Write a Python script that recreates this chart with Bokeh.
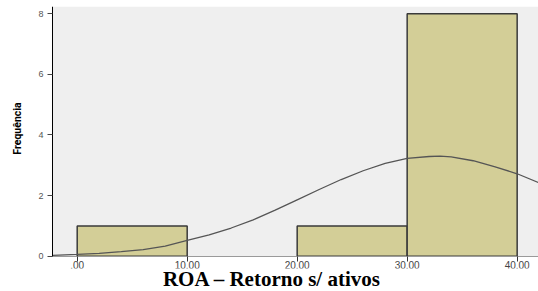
import math
from bokeh.plotting import figure
from bokeh.models import Label, FixedTicker, BoxAnnotation
from bokeh.embed import file_html
from bokeh.resources import INLINE

# Histogram bins (ROA) and frequencies
bin_left = [0, 10, 20, 30]
bin_right = [10, 20, 30, 40]
counts = [1, 0, 1, 8]

# Fitted normal curve
curve_x = [-2.2, 0, 2, 4, 6, 8, 10, 12, 14, 16, 18, 20, 22, 24, 26, 28, 30, 32, 33, 34, 36, 38, 40, 42]
curve_y = [0.03, 0.06, 0.09, 0.15, 0.22, 0.33, 0.52, 0.70, 0.93, 1.20, 1.52, 1.86, 2.20, 2.53, 2.82,
           3.06, 3.23, 3.29, 3.30, 3.28, 3.15, 2.95, 2.72, 2.42]

x_ticks = [0, 10, 20, 30, 40]
x_tick_labels = [".00", "10.00", "20.00", "30.00", "40.00"]
y_ticks = [0, 2, 4, 6, 8]

y_label = "Frequência"
caption = "ROA – Retorno s/ ativos"

X_LEFT, X_RIGHT = -6.973, 41.94
X_AXIS_POS = -2.245
Y_TOP = 8.24
Y_BOTTOM = -1.165
CAPTION_BOX_TOP = -0.405

p = figure(width=538, height=291, output_backend="svg", toolbar_location=None,
           x_range=(X_LEFT, X_RIGHT), y_range=(Y_BOTTOM, Y_TOP),
           min_border_left=0, min_border_right=0, min_border_top=6, min_border_bottom=0)
p.background_fill_color = "white"
p.border_fill_color = "white"
p.outline_line_color = None
p.xgrid.visible = False
p.ygrid.visible = False

# grey plot background
p.add_layout(BoxAnnotation(bottom=0, left=X_AXIS_POS, fill_color="#EFEFEF", fill_alpha=1.0,
                           line_alpha=0, level="underlay"))

lefts, rights, tops = [], [], []
for l, r, c in zip(bin_left, bin_right, counts):
    if c > 0:
        lefts.append(l); rights.append(r); tops.append(c)
p.quad(left=lefts, right=rights, top=tops, bottom=0,
       fill_color="#D3CE97", line_color="#3A3A3A", line_width=1.5)

p.line(curve_x, curve_y, line_color="#555555", line_width=1.3)

# x axis, fixed on the baseline
xa = p.xaxis[0]
xa.fixed_location = 0
xa.bounds = (X_AXIS_POS, X_RIGHT)
xa.ticker = FixedTicker(ticks=x_ticks)
xa.major_label_overrides = {t: s for t, s in zip(x_ticks, x_tick_labels)}
xa.axis_line_color = "#9A9A9A"
xa.major_tick_line_color = "#333333"
xa.major_tick_out = 5
xa.major_tick_in = 0
xa.minor_tick_line_color = None
xa.major_label_text_font = "Liberation Sans"
xa.major_label_text_font_size = "10px"
xa.major_label_text_color = "#444444"
xa.major_label_standoff = 0

# y axis, fixed at the left edge of the grey area
ya = p.yaxis[0]
ya.fixed_location = X_AXIS_POS
ya.bounds = (0, Y_TOP)
ya.ticker = FixedTicker(ticks=y_ticks)
ya.axis_line_color = "black"
ya.major_tick_line_color = "#444444"
ya.major_tick_out = 5
ya.major_tick_in = 0
ya.minor_tick_line_color = None
ya.major_label_text_font = "Liberation Sans"
ya.major_label_text_font_size = "9px"
ya.major_label_text_color = "#555555"
ya.major_label_standoff = 4

p.add_layout(Label(x=16.5, y=163, x_units="screen", y_units="screen", text=y_label,
                   angle=math.pi / 2, text_font="Roboto", text_font_style="bold",
                   text_font_size="10.5px", text_color="black",
                   text_align="center", text_baseline="middle"))

# white caption area (covers the lower half of the tick labels, as in the original)
p.add_layout(BoxAnnotation(top=CAPTION_BOX_TOP, fill_color="white", fill_alpha=1.0,
                           line_alpha=0, level="overlay"))

p.add_layout(Label(x=271.5, y=12.5, x_units="screen", y_units="screen", text=caption,
                   text_font="Liberation Serif", text_font_style="bold", text_font_size="21px",
                   text_color="black", text_align="center", text_baseline="middle",
                   level="overlay"))

open("out.html", "w").write(file_html(p, INLINE))
